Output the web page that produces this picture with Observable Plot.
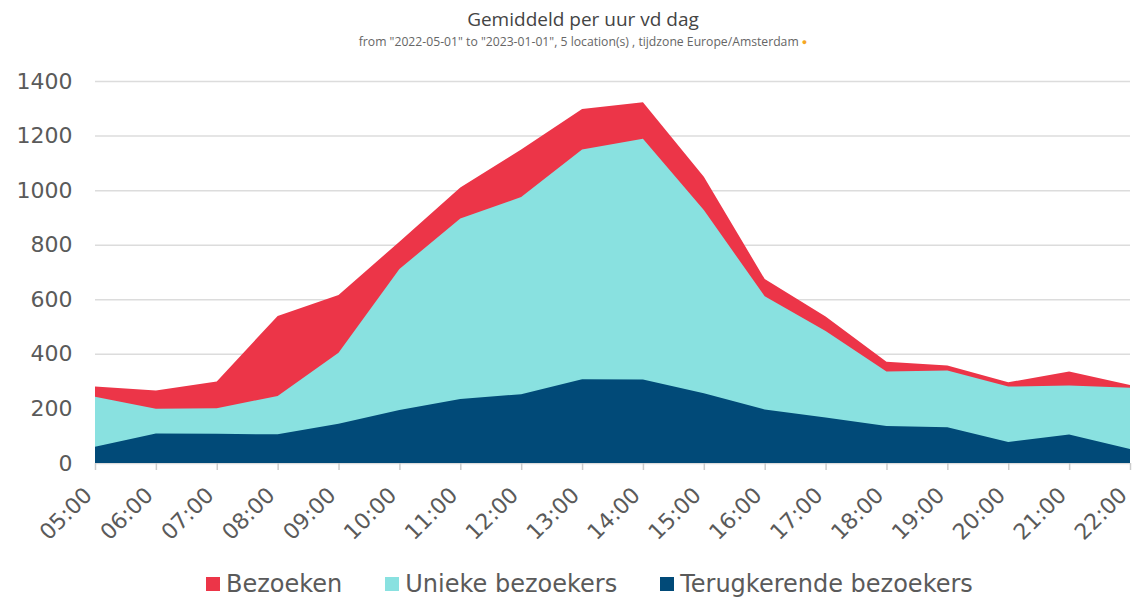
<!DOCTYPE html>
<html>
<head>
<meta charset="utf-8">
<script src="https://cdn.jsdelivr.net/npm/d3@7"></script>
<script src="https://cdn.jsdelivr.net/npm/@observablehq/plot@0.6"></script>
<style>
  html, body { margin: 0; padding: 0; background: #fff; width: 1132px; height: 598px; overflow: hidden; position: relative; }
  .title { position: absolute; left: 0; top: 10px; width: 1132px; box-sizing: border-box; padding-left: 34px; text-align: center;
           font-family: "Open Sans", sans-serif; font-size: 19px; line-height: 1; color: #444; }
  .subtitle { position: absolute; left: 0; top: 36px; width: 1132px; box-sizing: border-box; padding-left: 34px; text-align: center;
           font-family: "Open Sans", sans-serif; font-size: 12.2px; line-height: 1; color: #666; }
  .subtitle .dot { color: #f5a623; font-size: 9px; vertical-align: 1px; }
  #chart { position: absolute; left: 0; top: 54px; }
  .legend { position: absolute; left: 206px; top: 572px; display: flex; align-items: center;
            font-family: "DejaVu Sans", sans-serif; font-size: 24px; line-height: 1; color: #5a5a5a; }
  .legend .item { display: flex; align-items: center; margin-right: 43px; }
  .legend .sw { width: 14px; height: 14px; margin-right: 6px; display: inline-block; }
</style>
</head>
<body>
<div class="title">Gemiddeld per uur vd dag</div>
<div class="subtitle">from "2022-05-01" to "2023-01-01", 5 location(s) , tijdzone Europe/Amsterdam <span class="dot">●</span></div>
<div id="chart"></div>
<div class="legend" id="legend"></div>
<script>
const hours = ["05:00","06:00","07:00","08:00","09:00","10:00","11:00","12:00","13:00","14:00","15:00","16:00","17:00","18:00","19:00","20:00","21:00","22:00"];
const bezoeken = [280, 266, 299, 539, 616, 811, 1010, 1149, 1297, 1322, 1049, 674, 537, 371, 357, 296, 335, 286];
const unieke = [243, 199, 201, 246, 404, 711, 896, 975, 1149, 1188, 927, 611, 484, 335, 339, 280, 284, 276];
const terugkerend = [60, 108, 107, 105, 144, 194, 235, 252, 307, 306, 256, 196, 167, 136, 131, 77, 104, 51];
const yTicks = [0, 200, 400, 600, 800, 1000, 1200, 1400];
const seriesNames = ["Bezoeken", "Unieke bezoekers", "Terugkerende bezoekers"];
const seriesColors = ["#ec3548", "#89e1e0", "#014a78"];

const rows = s => hours.map((h, i) => ({hour: h, value: s[i]}));

const chart = Plot.plot({
  width: 1132,
  height: 500,
  marginTop: 27,
  marginBottom: 91,
  marginLeft: 95,
  marginRight: 2,
  style: {fontFamily: "DejaVu Sans", color: "#5a5a5a", background: "white", overflow: "visible"},
  x: {type: "point", domain: hours, padding: 0, round: false, label: null},
  y: {domain: [0, 1400], label: null},
  marks: [
    Plot.gridY(yTicks, {stroke: "#dcdcdc", strokeOpacity: 1, strokeWidth: 1.5}),
    Plot.areaY(rows(bezoeken), {x: "hour", y: "value", fill: seriesColors[0]}),
    Plot.areaY(rows(unieke), {x: "hour", y: "value", fill: seriesColors[1]}),
    Plot.areaY(rows(terugkerend), {x: "hour", y: "value", fill: seriesColors[2]}),
    Plot.axisY({ticks: yTicks, tickFormat: d => String(d), tickSize: 0, tickPadding: 23, fontSize: 22, label: null}),
    Plot.axisX({tickSize: 7, fill: "none", stroke: "#cccccc", strokeWidth: 1.5, label: null}),
    Plot.text(hours, {x: d => d, frameAnchor: "bottom", rotate: -45, textAnchor: "end", lineAnchor: "bottom",
                      dx: -2, dy: 33, fontSize: 22, fill: "#5a5a5a"})
  ]
});
document.getElementById("chart").appendChild(chart);

const legend = document.getElementById("legend");
seriesNames.forEach((n, i) => {
  const it = document.createElement("div");
  it.className = "item";
  const sw = document.createElement("span");
  sw.className = "sw";
  sw.style.background = seriesColors[i];
  const t = document.createElement("span");
  t.textContent = n;
  it.appendChild(sw);
  it.appendChild(t);
  legend.appendChild(it);
});
</script>
</body>
</html>
